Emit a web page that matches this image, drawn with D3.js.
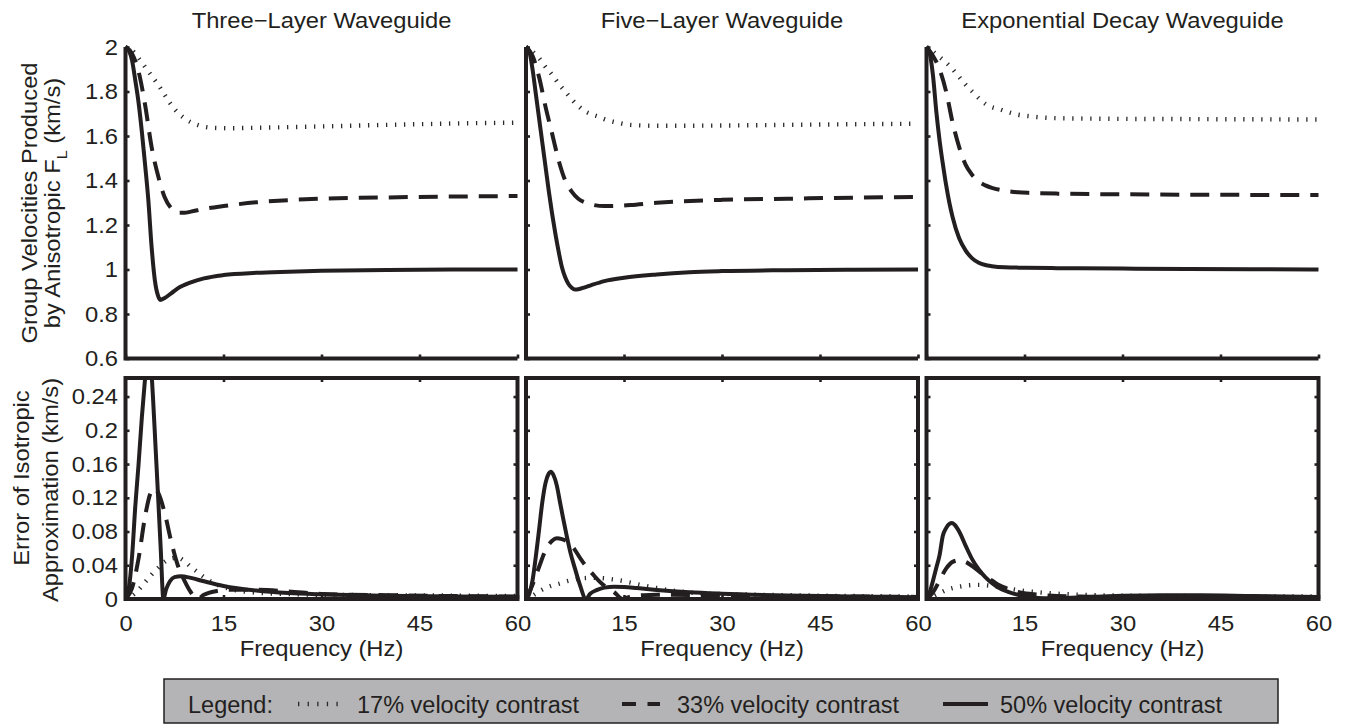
<!DOCTYPE html>
<html>
<head>
<meta charset="utf-8">
<script src="https://cdn.jsdelivr.net/npm/d3@7"></script>
<style>
  body { margin: 0; background: #fff; }
  svg { display: block; font-family: "Liberation Sans", Arial, Helvetica, sans-serif; }
</style>
</head>
<body>
<svg id="chart" width="1347" height="727"></svg>
<script>
// Panel titles, legend labels and ticks
const panelTitles = ["Three\u2212Layer Waveguide", "Five\u2212Layer Waveguide", "Exponential Decay Waveguide"];
const contrastLabels = ["17% velocity contrast", "33% velocity contrast", "50% velocity contrast"];
const velTicks = [0.6, 0.8, 1, 1.2, 1.4, 1.6, 1.8, 2];
const errTicks = [0, 0.04, 0.08, 0.12, 0.16, 0.2, 0.24];
const freqTicks = [0, 15, 30, 45, 60];

// Group velocities produced by anisotropic F_L, [frequency Hz, km/s]
const threeVel17 = [[0,2],[1,1.985],[2,1.95],[3,1.91],[4,1.87],[5,1.83],[6,1.785],[7,1.74],[8,1.705],[9,1.68],[10,1.662],[11,1.65],[12,1.642],[14,1.636],[16,1.635],[20,1.637],[30,1.643],[40,1.65],[50,1.656],[60,1.66]];
const threeVel33 = [[0,2],[1,1.97],[2,1.89],[3,1.74],[4,1.55],[5,1.42],[6,1.325],[7,1.275],[8,1.255],[9,1.255],[10,1.26],[12,1.272],[15,1.285],[20,1.302],[25,1.312],[30,1.318],[40,1.324],[50,1.328],[60,1.33]];
const threeVel50 = [[0,2],[0.5,1.985],[1,1.94],[1.5,1.85],[2,1.75],[2.5,1.62],[3,1.47],[3.5,1.31],[4,1.1],[4.5,0.95],[5,0.88],[5.3,0.863],[6,0.872],[7,0.893],[8,0.915],[10,0.942],[12,0.96],[15,0.975],[20,0.985],[25,0.99],[30,0.994],[40,0.998],[50,1],[60,1]];

const fiveVel17 = [[0,2],[1,1.98],[2,1.95],[3,1.91],[4,1.875],[5,1.835],[6,1.8],[7,1.765],[8,1.735],[9,1.712],[10,1.698],[11,1.688],[12,1.676],[14,1.66],[16,1.65],[20,1.646],[30,1.647],[40,1.65],[50,1.653],[60,1.655]];
const fiveVel33 = [[0,2],[1,1.96],[2,1.865],[3,1.73],[4,1.61],[5,1.49],[6,1.4],[7,1.35],[8,1.318],[9,1.302],[10,1.292],[12,1.285],[14,1.286],[16,1.29],[20,1.3],[30,1.313],[40,1.318],[50,1.323],[60,1.326]];
const fiveVel50 = [[0,2],[0.5,1.98],[1,1.9],[1.5,1.79],[2,1.68],[2.5,1.57],[3,1.46],[3.5,1.35],[4,1.25],[4.5,1.16],[5,1.08],[5.5,1.01],[6,0.965],[6.5,0.935],[7,0.918],[7.5,0.91],[8,0.911],[9,0.92],[10,0.93],[12,0.948],[15,0.963],[20,0.978],[25,0.988],[30,0.993],[40,0.997],[50,0.999],[60,1]];

const expoVel17 = [[0,2],[1,1.98],[2,1.955],[3,1.93],[4,1.9],[5,1.865],[6,1.83],[7,1.8],[8,1.77],[9,1.745],[10,1.73],[11,1.722],[12,1.712],[14,1.696],[16,1.688],[20,1.68],[30,1.677],[40,1.676],[50,1.675],[60,1.674]];
const expoVel33 = [[0,2],[1,1.96],[2,1.9],[3,1.8],[4,1.66],[5,1.55],[6,1.47],[7,1.425],[8,1.395],[9,1.378],[10,1.367],[12,1.354],[14,1.347],[16,1.344],[20,1.341],[30,1.338],[40,1.336],[60,1.335]];
const expoVel50 = [[0,2],[0.5,1.97],[1,1.87],[1.5,1.71],[2,1.58],[2.5,1.475],[3,1.38],[3.5,1.3],[4,1.235],[5,1.14],[6,1.085],[7,1.05],[8,1.03],[9,1.02],[10,1.015],[12,1.01],[15,1.008],[20,1.006],[30,1.004],[40,1.002],[50,1.001],[60,1]];

// Error of isotropic approximation, [frequency Hz, km/s]
const threeErr17 = [[0,0],[1,0.004],[2,0.011],[3,0.02],[4,0.029],[5,0.037],[6,0.044],[7,0.048],[8,0.049],[9,0.045],[10,0.038],[11,0.032],[12,0.026],[14,0.017],[16,0.012],[18,0.009],[20,0.0075],[25,0.006],[30,0.005],[40,0.0045],[50,0.004],[60,0.0035]];
const threeErr33 = [[0,0],[1,0.013],[2,0.048],[3,0.098],[3.8,0.125],[4.4,0.131],[5,0.126],[6,0.102],[7,0.068],[8,0.04],[9,0.022],[10,0.008],[11,0],[12,0.005],[14,0.0095],[16,0.011],[20,0.011],[25,0.009],[30,0.006],[40,0.0045],[50,0.0035],[60,0.003]];
const threeErr50 = [[0,0],[0.5,0.012],[1,0.05],[1.5,0.11],[2,0.16],[2.5,0.215],[3,0.262],[3.4,0.295],[3.8,0.285],[4.2,0.24],[4.6,0.18],[5,0.12],[5.4,0.058],[5.8,0],[6.2,0.011],[6.8,0.021],[7.5,0.026],[8.5,0.027],[10,0.025],[12,0.021],[15,0.0155],[20,0.01],[25,0.007],[30,0.0055],[40,0.004],[50,0.003],[60,0.0025]];

const fiveErr17 = [[0,0],[1,0.004],[2,0.009],[3,0.013],[4,0.016],[5,0.018],[6,0.0205],[7,0.0225],[8,0.024],[9,0.0248],[10,0.025],[11,0.025],[12,0.0245],[13,0.0235],[14,0.0225],[16,0.0195],[18,0.016],[20,0.013],[23,0.0095],[26,0.0072],[30,0.006],[40,0.0045],[50,0.0035],[60,0.003]];
const fiveErr33 = [[0,0],[1,0.017],[2,0.038],[3,0.058],[4,0.069],[4.7,0.072],[5.5,0.071],[6.5,0.067],[7.5,0.058],[8.5,0.046],[9.5,0.036],[10.5,0.027],[11.5,0.019],[12.5,0.013],[13.5,0.008],[14.8,0],[16,0.003],[18,0.0045],[20,0.005],[25,0.0048],[30,0.0042],[40,0.0035],[50,0.003],[60,0.0025]];
const fiveErr50 = [[0,0],[0.5,0.006],[1,0.022],[1.5,0.05],[2,0.082],[2.5,0.115],[3,0.138],[3.5,0.149],[3.8,0.151],[4.2,0.147],[4.7,0.135],[5.2,0.115],[5.7,0.095],[6.2,0.076],[6.8,0.055],[7.5,0.036],[8.2,0.018],[9.2,0],[9.8,0.006],[10.8,0.0105],[12,0.0135],[13.5,0.0145],[15,0.0143],[17,0.013],[20,0.0108],[25,0.008],[30,0.0063],[40,0.0042],[50,0.003],[60,0.002]];

const expoErr17 = [[0,0],[1,0.003],[2,0.0068],[3,0.0105],[4,0.013],[5,0.0146],[6,0.0158],[7,0.0165],[8,0.0167],[9,0.0163],[10,0.0155],[12,0.0132],[14,0.0105],[16,0.0088],[19,0.0068],[22,0.0055],[26,0.0045],[30,0.004],[40,0.0035],[50,0.0032],[60,0.003]];
const expoErr33 = [[0,0],[1,0.008],[2,0.022],[3,0.036],[4,0.044],[5,0.046],[6,0.044],[7,0.039],[8,0.033],[9,0.027],[10,0.022],[11,0.017],[12.5,0.012],[14,0.0085],[16,0.006],[18,0.0045],[20,0.0035],[25,0.0028],[30,0.0025],[40,0.0025],[50,0.0022],[60,0.002]];
const expoErr50 = [[0,0],[0.5,0.008],[1,0.022],[1.5,0.037],[2,0.052],[2.5,0.075],[3,0.084],[3.5,0.089],[3.9,0.09],[4.3,0.088],[5,0.08],[6,0.063],[7,0.047],[8,0.035],[9,0.026],[10,0.019],[11,0.0135],[12.5,0.0085],[14,0.005],[16,0.002],[18,0.0008],[20,0.0008],[25,0.0025],[30,0.0038],[36,0.0045],[42,0.0045],[50,0.0035],[60,0.0025]];

const velSeries = [[threeVel17, threeVel33, threeVel50], [fiveVel17, fiveVel33, fiveVel50], [expoVel17, expoVel33, expoVel50]];
const errSeries = [[threeErr17, threeErr33, threeErr50], [fiveErr17, fiveErr33, fiveErr50], [expoErr17, expoErr33, expoErr50]];

var svg = d3.select('#chart'),
    ink = "#231f20",
    panelLeft = [125.5, 526, 926.5],
    panelWidth = 392,
    velTop = 47, velBottom = 358.5,
    errTop = 378, errBottom = 599,
    stretch = "scale(1.08,1)";

// line styles for 17%, 33%, 50%
var styles = [
    { width: 4.4, dash: "1.3,7.7", color: "#2a2a2a" },
    { width: 4, dash: "19,11", color: ink },
    { width: 4, dash: null, color: ink }
];

function addText(parent, str, x, y, size, anchor, rot, sx) {
    return parent.append("text")
        .attr("transform", "translate(" + x + "," + y + ")" + (rot ? " rotate(" + rot + ")" : "") + " scale(" + sx + ",1)")
        .attr("font-size", size)
        .attr("text-anchor", anchor)
        .attr("fill", ink)
        .text(str);
}

function styleAxis(g) {
    g.select(".domain").remove();
    g.selectAll(".tick line").attr("stroke", ink).attr("stroke-width", 2.6);
    g.selectAll(".tick text").attr("fill", ink).attr("font-size", 22)
        .attr("font-family", "Liberation Sans, Arial, sans-serif")
        .attr("transform", stretch);
}

panelTitles.forEach(function (title, i) {
    var x0 = panelLeft[i], x1 = x0 + panelWidth;
    var x = d3.scaleLinear().domain([0, 60]).range([x0, x1]);
    var yV = d3.scaleLinear().domain([0.6, 2]).range([velBottom, velTop]);
    var yE = d3.scaleLinear().domain([0, 0.262]).range([errBottom, errTop]);
    var g = svg.append("g");

    // clip for the error panel (the 50% peak runs off the top)
    svg.append("clipPath").attr("id", "clip" + i)
        .append("rect").attr("x", x0).attr("y", errTop).attr("width", panelWidth).attr("height", errBottom - errTop);

    var lineV = d3.line().x(d => x(d[0])).y(d => yV(d[1])).curve(d3.curveMonotoneX);
    var lineE = d3.line().x(d => x(d[0])).y(d => yE(d[1])).curve(d3.curveMonotoneX);

    // group velocity curves
    velSeries[i].forEach(function (s, k) {
        g.append("path").datum(s)
            .attr("d", lineV)
            .attr("fill", "none")
            .attr("stroke", styles[k].color)
            .attr("stroke-width", styles[k].width)
            .attr("stroke-dasharray", styles[k].dash)
            .attr("stroke-linejoin", "round");
    });

    // error curves
    errSeries[i].forEach(function (s, k) {
        g.append("path").datum(s)
            .attr("clip-path", "url(#clip" + i + ")")
            .attr("d", lineE)
            .attr("fill", "none")
            .attr("stroke", styles[k].color)
            .attr("stroke-width", styles[k].width)
            .attr("stroke-dasharray", styles[k].dash)
            .attr("stroke-linejoin", "round");
    });

    // top panel axes
    g.append("g").attr("transform", "translate(" + x0 + ",0)")
        .call(d3.axisLeft(yV).tickValues(velTicks).tickSize(-4).tickPadding(7)
            .tickFormat(i === 0 ? d3.format("") : ""))
        .call(styleAxis);
    g.append("g").attr("transform", "translate(0," + velBottom + ")")
        .call(d3.axisBottom(x).tickValues(freqTicks).tickSize(-4).tickFormat(""))
        .call(styleAxis);

    // bottom panel axes
    g.append("g").attr("transform", "translate(" + x0 + ",0)")
        .call(d3.axisLeft(yE).tickValues(errTicks).tickSize(-4).tickPadding(7)
            .tickFormat(i === 0 ? d3.format("") : ""))
        .call(styleAxis);
    g.append("g").attr("transform", "translate(" + x1 + ",0)")
        .call(d3.axisRight(yE).tickValues(errTicks).tickSize(-4).tickFormat(""))
        .call(styleAxis);
    g.append("g").attr("transform", "translate(0," + errTop + ")")
        .call(d3.axisTop(x).tickValues([15, 30, 45]).tickSize(-4).tickFormat(""))
        .call(styleAxis);
    g.append("g").attr("transform", "translate(0," + errBottom + ")")
        .call(d3.axisBottom(x).tickValues(freqTicks).tickSize(-4).tickPadding(16)
            .tickFormat(d => (d === 0 && i > 0) ? "" : d))
        .call(styleAxis);

    // spines
    g.append("path")
        .attr("d", "M" + x0 + "," + velTop + "V" + velBottom + "H" + x1)
        .attr("fill", "none").attr("stroke", ink).attr("stroke-width", 4);
    g.append("rect")
        .attr("x", x0).attr("y", errTop).attr("width", panelWidth).attr("height", errBottom - errTop)
        .attr("fill", "none").attr("stroke", ink).attr("stroke-width", 4);

    // title and x label
    addText(svg, title, (x0 + x1) / 2, 28, 22, "middle", 0, 1.08);
    addText(svg, "Frequency (Hz)", (x0 + x1) / 2, 656, 22, "middle", 0, 1.08);
});

// y axis labels
addText(svg, "Group Velocities Produced", 36.5, 203, 22, "middle", -90, 1.08);
var yl = addText(svg, "by Anisotropic F", 60, 203, 22, "middle", -90, 1.08);
yl.append("tspan").attr("font-size", 15).attr("dy", 7).text("L");
yl.append("tspan").attr("dy", -7).text("  (km/s)");
addText(svg, "Error of Isotropic", 29, 478, 22, "middle", -90, 1.08);
addText(svg, "Approximation (km/s)", 58, 490, 22, "middle", -90, 1.08);

// legend
var legend = svg.append("g");
legend.append("rect")
    .attr("x", 164).attr("y", 679).attr("width", 1114).attr("height", 44)
    .attr("fill", "#b4b4b6").attr("stroke", ink).attr("stroke-width", 1.5);
addText(legend, "Legend:", 188, 713, 23.5, "start", 0, 1);
var legendItems = [
    { x1: 298, x2: 340, tx: 357, dash: "1.3,8.3" },
    { x1: 622, x2: 660, tx: 677, dash: "14,11.5" },
    { x1: 943, x2: 988, tx: 1000, dash: null }
];
legendItems.forEach(function (it, k) {
    legend.append("line")
        .attr("x1", it.x1).attr("x2", it.x2).attr("y1", 704).attr("y2", 704)
        .attr("stroke", styles[k].color)
        .attr("stroke-width", k === 0 ? 4.4 : 4)
        .attr("stroke-dasharray", it.dash);
    addText(legend, contrastLabels[k], it.tx, 713, 23.5, "start", 0, 1);
});
</script>
</body>
</html>
